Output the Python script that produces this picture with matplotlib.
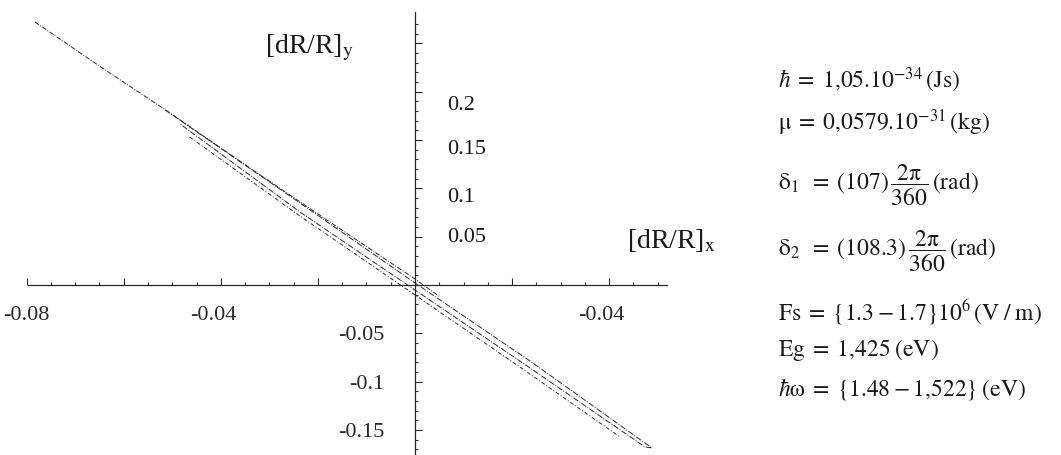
import matplotlib
matplotlib.use("Agg")
import matplotlib.pyplot as plt
from matplotlib.ticker import FixedLocator
from matplotlib.transforms import ScaledTranslation

plt.rcParams.update({
    "font.family": ["Liberation Serif", "DejaVu Serif"],
    "mathtext.fontset": "stix",
    "text.color": "#1a1a1a",
})

# curves (x = [dR/R]_x, y = [dR/R]_y)
upper_x = [-0.0783, -0.0649, -0.0505, -0.0340, -0.0175, 0.0, 0.0052]
upper_y = [0.272, 0.226, 0.178, 0.121, 0.065, 0.0062, -0.0124]

loop_x = [-0.0515, -0.0237, 0.0, 0.0237, 0.0488, 0.0474, 0.0237, 0.0, -0.0237, -0.0484]
loop_y = [0.181, 0.0848, 0.0021, -0.0786, -0.1685, -0.1675, -0.0858, -0.0052, 0.0755, 0.1665]

lower_x = [-0.0464, -0.0237, 0.0, 0.0216, 0.0422]
lower_y = [0.153, 0.0713, -0.0103, -0.0848, -0.157]

xtick_vals = [-0.08, -0.06, -0.04, -0.02, 0.02, 0.04]
xtick_text = ["-0.08", "", "-0.04", "", "", "-0.04"]
ytick_vals = [-0.15, -0.1, -0.05, 0.05, 0.1, 0.15, 0.2, 0.25]
ytick_text = ["-0.15", "-0.1", "-0.05", "", "", "", "", ""]
ypos_text = ["0.2", "0.15", "0.1", "0.05"]
ypos_at = [0.186, 0.140, 0.090, 0.0486]

params = [
    (r"$\hbar\;=\;1{,}05.10^{-34}\,(\mathrm{Js})$", 80),
    (r"$\mathrm{\mu}\;=\;0{,}0579.10^{-31}\,(\mathrm{kg})$", 123),
    (r"$\mathrm{\delta}_{1}\;\;=\;(107)\,\dfrac{2\mathrm{\pi}}{360}\,(\mathrm{rad})$", 185),
    (r"$\mathrm{\delta}_{2}\;\;=\;(108.3)\,\dfrac{2\mathrm{\pi}}{360}\,(\mathrm{rad})$", 251),
    (r"$\mathrm{Fs}\;=\;\{1.3 - 1.7\}10^{6}\,(\mathrm{V\;/\;m})$", 312),
    (r"$\mathrm{Eg}\;=\;1{,}425\;(\mathrm{eV})$", 350),
    (r"$\hbar\mathrm{\omega}\;=\;\{1.48 - 1{,}522\}\;(\mathrm{eV})$", 389),
]

W, H = 1061, 455
fig = plt.figure(figsize=(W / 100, H / 100), dpi=100)
ax = fig.add_axes([0, 0, 1, 1])
ax.set_xlim(-0.0855, 0.1331)
ax.set_ylim(-0.1758, 0.2947)

ink = "#2a2a2a"
ax.plot(upper_x, upper_y, color=ink, lw=0.7, ls=(0, (5, 1.5, 1, 1.5)))
ax.plot(loop_x, loop_y, color=ink, lw=0.7, ls=(0, (6, 1.5, 1, 1.5)))
ax.plot(lower_x, lower_y, color=ink, lw=0.7, ls=(0, (4, 2, 1, 2)))

# axes through the origin
for s in ["top", "right"]:
    ax.spines[s].set_visible(False)
ax.spines["bottom"].set_position(("data", 0))
ax.spines["left"].set_position(("data", 0))
ax.spines["bottom"].set_bounds(-0.0797, 0.0519)
ax.spines["left"].set_bounds(-0.18, 0.282)
for s in ["bottom", "left"]:
    ax.spines[s].set_color(ink)
    ax.spines[s].set_linewidth(0.9)

ax.xaxis.set_major_locator(FixedLocator(xtick_vals))
ax.xaxis.set_minor_locator(FixedLocator([i * 0.005 for i in range(-15, 11) if i % 4]))
ax.yaxis.set_major_locator(FixedLocator(ytick_vals))
ax.yaxis.set_minor_locator(FixedLocator([i * 0.01 for i in range(-17, 28) if i % 5]))
ax.set_xticklabels(xtick_text)
ax.set_yticklabels(ytick_text)
ax.tick_params(which="both", direction="in", colors=ink, width=0.8, labelsize=16)
ax.tick_params(which="major", length=5)
ax.tick_params(which="minor", length=2.5)
ax.tick_params(axis="x", pad=15)
ax.tick_params(axis="y", pad=22)

# the scanned labels sit a little left of their ticks
for i in (2, 5):
    lbl = ax.get_xticklabels()[i]
    lbl.set_transform(lbl.get_transform() + ScaledTranslation(-0.08, 0, fig.dpi_scale_trans))

for t, y in zip(ypos_text, ypos_at):
    ax.text(0.0066, y, t, fontsize=16, ha="left", va="center")

# axis names
fig.text(265 / W, 1 - 48 / H, r"[dR/R]$_\mathrm{y}$", fontsize=20, ha="left", va="center")
fig.text(627 / W, 1 - 241 / H, r"[dR/R]$_\mathrm{x}$", fontsize=20, ha="left", va="center")

# parameter block
for txt, py in params:
    fig.text(778 / W, 1 - py / H, txt, fontsize=17, ha="left", va="center")

fig.savefig("out.png", dpi=100, facecolor="white")
